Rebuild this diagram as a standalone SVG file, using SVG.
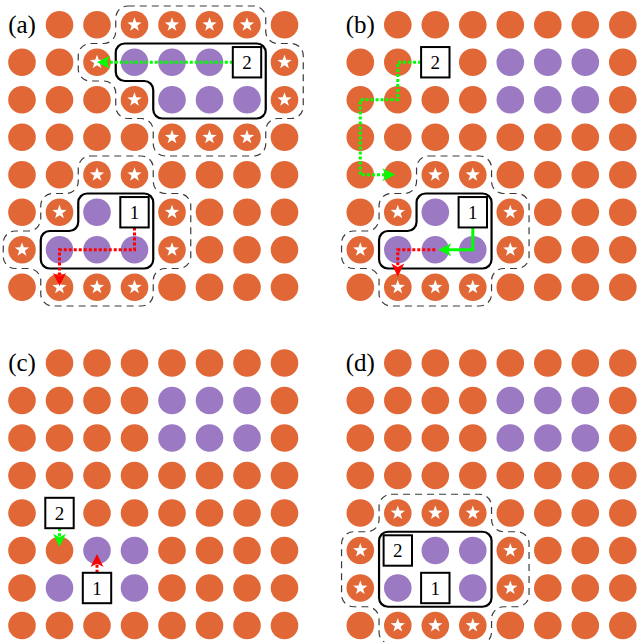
<svg xmlns="http://www.w3.org/2000/svg" width="637" height="642" viewBox="0 0 637 642">
<style>
.o{fill:#E16836}
.p{fill:#9B7AC3}
.st{fill:#fff}
.dash{fill:none;stroke:#3a3a3a;stroke-width:1.2;stroke-dasharray:7 5}
.solid{fill:none;stroke:#000;stroke-width:2.2}
.box rect{fill:#fff;stroke:#000;stroke-width:2}
.box text{font-family:"Liberation Serif",serif;font-size:19px;text-anchor:middle;fill:#000}
.lbl{font-family:"Liberation Serif",serif;font-size:25px;text-anchor:middle;fill:#000}
.gd{fill:none;stroke:#00FF00;stroke-width:3;stroke-dasharray:3 2}
.rd{fill:none;stroke:#FF0000;stroke-width:3;stroke-dasharray:3 2}
.gs{fill:none;stroke:#00FF00;stroke-width:3}
</style>
<defs>
<circle id="O" r="13.8" class="o"/>
<circle id="P" r="13.8" class="p"/>
<g id="S"><circle r="13.8" class="o"/><polygon class="st" points="0,-7.5 1.76,-2.43 7.13,-2.32 2.85,0.93 4.41,6.07 0,3 -4.41,6.07 -2.85,0.93 -7.13,-2.32 -1.76,-2.43"/></g>
<g id="rowFull"><use href="#O" x="22"/><use href="#O" x="59.5"/><use href="#O" x="97"/><use href="#O" x="134.5"/><use href="#O" x="172"/><use href="#O" x="209.5"/><use href="#O" x="247"/><use href="#O" x="284.5"/></g>
<g id="rowLbl"><use href="#O" x="59.5"/><use href="#O" x="97"/><use href="#O" x="134.5"/><use href="#O" x="172"/><use href="#O" x="209.5"/><use href="#O" x="247"/><use href="#O" x="284.5"/></g>
<g id="rowP"><use href="#O" x="22"/><use href="#O" x="59.5"/><use href="#O" x="97"/><use href="#O" x="134.5"/><use href="#P" x="172"/><use href="#P" x="209.5"/><use href="#P" x="247"/><use href="#O" x="284.5"/></g>
<g id="lowerAB">
<use href="#O" x="22" y="174.75"/><use href="#O" x="59.5" y="174.75"/><use href="#S" x="97" y="174.75"/><use href="#S" x="134.5" y="174.75"/><use href="#O" x="172" y="174.75"/><use href="#O" x="209.5" y="174.75"/><use href="#O" x="247" y="174.75"/><use href="#O" x="284.5" y="174.75"/>
<use href="#O" x="22" y="212.25"/><use href="#S" x="59.5" y="212.25"/><use href="#P" x="97" y="212.25"/><use href="#S" x="172" y="212.25"/><use href="#O" x="209.5" y="212.25"/><use href="#O" x="247" y="212.25"/><use href="#O" x="284.5" y="212.25"/>
<use href="#S" x="22" y="249.75"/><use href="#P" x="59.5" y="249.75"/><use href="#P" x="97" y="249.75"/><use href="#P" x="134.5" y="249.75"/><use href="#S" x="172" y="249.75"/><use href="#O" x="209.5" y="249.75"/><use href="#O" x="247" y="249.75"/><use href="#O" x="284.5" y="249.75"/>
<use href="#O" x="22" y="287.25"/><use href="#S" x="59.5" y="287.25"/><use href="#S" x="97" y="287.25"/><use href="#S" x="134.5" y="287.25"/><use href="#O" x="172" y="287.25"/><use href="#O" x="209.5" y="287.25"/><use href="#O" x="247" y="287.25"/><use href="#O" x="284.5" y="287.25"/>
<path class="dash" d="M90.25 156 L141.25 156 A12 12 0 0 1 153.25 168 L153.25 181.5 A12 12 0 0 0 165.25 193.5 L178.75 193.5 A12 12 0 0 1 190.75 205.5 L190.75 256.5 A12 12 0 0 1 178.75 268.5 L165.25 268.5 A12 12 0 0 0 153.25 280.5 L153.25 294 A12 12 0 0 1 141.25 306 L52.75 306 A12 12 0 0 1 40.75 294 L40.75 280.5 A12 12 0 0 0 28.75 268.5 L15.25 268.5 A12 12 0 0 1 3.25 256.5 L3.25 243 A12 12 0 0 1 15.25 231 L28.75 231 A12 12 0 0 0 40.75 219 L40.75 205.5 A12 12 0 0 1 52.75 193.5 L66.25 193.5 A12 12 0 0 0 78.25 181.5 L78.25 168 A12 12 0 0 1 90.25 156 Z"/>
<path class="solid" d="M87.25 193.5 L144.25 193.5 A9 9 0 0 1 153.25 202.5 L153.25 259.5 A9 9 0 0 1 144.25 268.5 L49.75 268.5 A9 9 0 0 1 40.75 259.5 L40.75 240 A9 9 0 0 1 49.75 231 L69.25 231 A9 9 0 0 0 78.25 222 L78.25 202.5 A9 9 0 0 1 87.25 193.5 Z"/>
</g>
<path id="ah" d="M0 0 L-13 -6.5 L-9.5 0 L-13 6.5 Z"/>
</defs>

<g id="panel-a">
<text class="lbl" x="22" y="32.5">(a)</text>
<use href="#O" x="59.5" y="24.75"/><use href="#O" x="97" y="24.75"/><use href="#S" x="134.5" y="24.75"/><use href="#S" x="172" y="24.75"/><use href="#S" x="209.5" y="24.75"/><use href="#S" x="247" y="24.75"/><use href="#O" x="284.5" y="24.75"/>
<use href="#O" x="22" y="62.25"/><use href="#O" x="59.5" y="62.25"/><use href="#S" x="97" y="62.25"/><use href="#P" x="134.5" y="62.25"/><use href="#P" x="172" y="62.25"/><use href="#P" x="209.5" y="62.25"/><use href="#S" x="284.5" y="62.25"/>
<use href="#O" x="22" y="99.75"/><use href="#O" x="59.5" y="99.75"/><use href="#O" x="97" y="99.75"/><use href="#S" x="134.5" y="99.75"/><use href="#P" x="172" y="99.75"/><use href="#P" x="209.5" y="99.75"/><use href="#P" x="247" y="99.75"/><use href="#S" x="284.5" y="99.75"/>
<use href="#O" x="22" y="137.25"/><use href="#O" x="59.5" y="137.25"/><use href="#O" x="97" y="137.25"/><use href="#O" x="134.5" y="137.25"/><use href="#S" x="172" y="137.25"/><use href="#S" x="209.5" y="137.25"/><use href="#S" x="247" y="137.25"/><use href="#O" x="284.5" y="137.25"/>
<path class="dash" d="M127.75 6 L253.75 6 A12 12 0 0 1 265.75 18 L265.75 31.5 A12 12 0 0 0 277.75 43.5 L291.25 43.5 A12 12 0 0 1 303.25 55.5 L303.25 106.5 A12 12 0 0 1 291.25 118.5 L277.75 118.5 A12 12 0 0 0 265.75 130.5 L265.75 144 A12 12 0 0 1 253.75 156 L165.25 156 A12 12 0 0 1 153.25 144 L153.25 130.5 A12 12 0 0 0 141.25 118.5 L127.75 118.5 A12 12 0 0 1 115.75 106.5 L115.75 93 A12 12 0 0 0 103.75 81 L90.25 81 A12 12 0 0 1 78.25 69 L78.25 55.5 A12 12 0 0 1 90.25 43.5 L103.75 43.5 A12 12 0 0 0 115.75 31.5 L115.75 18 A12 12 0 0 1 127.75 6 Z"/>
<path class="solid" d="M124.75 43.5 L256.75 43.5 A9 9 0 0 1 265.75 52.5 L265.75 109.5 A9 9 0 0 1 256.75 118.5 L162.25 118.5 A9 9 0 0 1 153.25 109.5 L153.25 90 A9 9 0 0 0 144.25 81 L124.75 81 A9 9 0 0 1 115.75 72 L115.75 52.5 A9 9 0 0 1 124.75 43.5 Z"/>
<use href="#lowerAB"/>
</g>

<g id="panel-b" transform="translate(338.3 0)">
<text class="lbl" x="22" y="32.5">(b)</text>
<use href="#rowLbl" y="24.75"/>
<use href="#O" x="22" y="62.25"/><use href="#O" x="59.5" y="62.25"/><use href="#O" x="134.5" y="62.25"/><use href="#P" x="172" y="62.25"/><use href="#P" x="209.5" y="62.25"/><use href="#P" x="247" y="62.25"/><use href="#O" x="284.5" y="62.25"/>
<use href="#rowP" y="99.75"/>
<use href="#rowFull" y="137.25"/>
<use href="#lowerAB"/>
</g>

<g id="panel-c" transform="translate(0 338.25)">
<text class="lbl" x="22" y="32.5">(c)</text>
<use href="#rowLbl" y="24.75"/>
<use href="#rowP" y="62.25"/>
<use href="#rowP" y="99.75"/>
<use href="#rowFull" y="137.25"/>
<use href="#O" x="22" y="174.75"/><use href="#O" x="97" y="174.75"/><use href="#O" x="134.5" y="174.75"/><use href="#O" x="172" y="174.75"/><use href="#O" x="209.5" y="174.75"/><use href="#O" x="247" y="174.75"/><use href="#O" x="284.5" y="174.75"/>
<use href="#O" x="22" y="212.25"/><use href="#O" x="59.5" y="212.25"/><use href="#P" x="97" y="212.25"/><use href="#P" x="134.5" y="212.25"/><use href="#O" x="172" y="212.25"/><use href="#O" x="209.5" y="212.25"/><use href="#O" x="247" y="212.25"/><use href="#O" x="284.5" y="212.25"/>
<use href="#O" x="22" y="249.75"/><use href="#P" x="59.5" y="249.75"/><use href="#P" x="134.5" y="249.75"/><use href="#O" x="172" y="249.75"/><use href="#O" x="209.5" y="249.75"/><use href="#O" x="247" y="249.75"/><use href="#O" x="284.5" y="249.75"/>
<use href="#rowFull" y="287.25"/>
</g>

<g id="panel-d" transform="translate(338.3 338.25)">
<text class="lbl" x="22" y="32.5">(d)</text>
<use href="#rowLbl" y="24.75"/>
<use href="#rowP" y="62.25"/>
<use href="#rowP" y="99.75"/>
<use href="#rowFull" y="137.25"/>
<use href="#O" x="22" y="174.75"/><use href="#S" x="59.5" y="174.75"/><use href="#S" x="97" y="174.75"/><use href="#S" x="134.5" y="174.75"/><use href="#O" x="172" y="174.75"/><use href="#O" x="209.5" y="174.75"/><use href="#O" x="247" y="174.75"/><use href="#O" x="284.5" y="174.75"/>
<use href="#S" x="22" y="212.25"/><use href="#P" x="97" y="212.25"/><use href="#P" x="134.5" y="212.25"/><use href="#S" x="172" y="212.25"/><use href="#O" x="209.5" y="212.25"/><use href="#O" x="247" y="212.25"/><use href="#O" x="284.5" y="212.25"/>
<use href="#S" x="22" y="249.75"/><use href="#P" x="59.5" y="249.75"/><use href="#P" x="134.5" y="249.75"/><use href="#S" x="172" y="249.75"/><use href="#O" x="209.5" y="249.75"/><use href="#O" x="247" y="249.75"/><use href="#O" x="284.5" y="249.75"/>
<use href="#O" x="22" y="287.25"/><use href="#S" x="59.5" y="287.25"/><use href="#S" x="97" y="287.25"/><use href="#S" x="134.5" y="287.25"/><use href="#O" x="172" y="287.25"/><use href="#O" x="209.5" y="287.25"/><use href="#O" x="247" y="287.25"/><use href="#O" x="284.5" y="287.25"/>
<path class="dash" d="M52.75 156 L141.25 156 A12 12 0 0 1 153.25 168 L153.25 181.5 A12 12 0 0 0 165.25 193.5 L178.75 193.5 A12 12 0 0 1 190.75 205.5 L190.75 256.5 A12 12 0 0 1 178.75 268.5 L165.25 268.5 A12 12 0 0 0 153.25 280.5 L153.25 294 A12 12 0 0 1 141.25 306 L52.75 306 A12 12 0 0 1 40.75 294 L40.75 280.5 A12 12 0 0 0 28.75 268.5 L15.25 268.5 A12 12 0 0 1 3.25 256.5 L3.25 205.5 A12 12 0 0 1 15.25 193.5 L28.75 193.5 A12 12 0 0 0 40.75 181.5 L40.75 168 A12 12 0 0 1 52.75 156 Z"/>
<rect class="solid" x="40.75" y="193.5" width="112.5" height="75" rx="9"/>
</g>

<g id="connectors">
<g transform="translate(0 0)">
<path class="gd" d="M232.8 62.25 H107"/>
<use href="#ah" fill="#00FF00" transform="translate(97 62.25) rotate(180)"/>
<path class="rd" d="M134.5 227.5 V249.75 H59.5 V276.5"/>
<use href="#ah" fill="#FF0000" transform="translate(59.5 286) rotate(90)"/>
</g>
<g transform="translate(338.3 0)">
<path class="gd" d="M82.8 62.25 H59.5 V99.75 H22 V174.75 H47.5"/>
<use href="#ah" fill="#00FF00" transform="translate(57 174.75)"/>
<path class="rd" d="M97 249.75 H59.5 V267"/>
<use href="#ah" fill="#FF0000" transform="translate(59.5 276.5) rotate(90)"/>
<path class="gs" d="M134.5 227.5 V249.75 H109.5"/>
<use href="#ah" fill="#00FF00" transform="translate(100 249.75) rotate(180)"/>
</g>
<g transform="translate(0 338.25)">
<path class="gd" d="M59.5 190 V199"/>
<use href="#ah" fill="#00FF00" transform="translate(59.5 208.5) rotate(90)"/>
<path class="rd" d="M97 234.5 V225.3"/>
<use href="#ah" fill="#FF0000" transform="translate(97 215.8) rotate(-90)"/>
</g>
</g>

<g id="box-a2" class="box"><rect x="232.8" y="47.05" width="28.4" height="30.4"/><text x="247" y="68.75">2</text></g>
<g id="box-a1" class="box"><rect x="120.3" y="197.05" width="28.4" height="30.4"/><text x="134.5" y="218.75">1</text></g>
<g id="box-b2" class="box" transform="translate(338.3 0)"><rect x="82.8" y="47.05" width="28.4" height="30.4"/><text x="97" y="68.75">2</text></g>
<g id="box-b1" class="box" transform="translate(338.3 0)"><rect x="120.3" y="197.05" width="28.4" height="30.4"/><text x="134.5" y="218.75">1</text></g>
<g id="box-c2" class="box" transform="translate(0 338.25)"><rect x="45.3" y="159.55" width="28.4" height="30.4"/><text x="59.5" y="181.25">2</text></g>
<g id="box-c1" class="box" transform="translate(0 338.25)"><rect x="82.8" y="234.55" width="28.4" height="30.4"/><text x="97" y="256.25">1</text></g>
<g id="box-d2" class="box" transform="translate(338.3 338.25)"><rect x="45.3" y="197.05" width="28.4" height="30.4"/><text x="59.5" y="218.75">2</text></g>
<g id="box-d1" class="box" transform="translate(338.3 338.25)"><rect x="82.8" y="234.55" width="28.4" height="30.4"/><text x="97" y="256.25">1</text></g>
</svg>
